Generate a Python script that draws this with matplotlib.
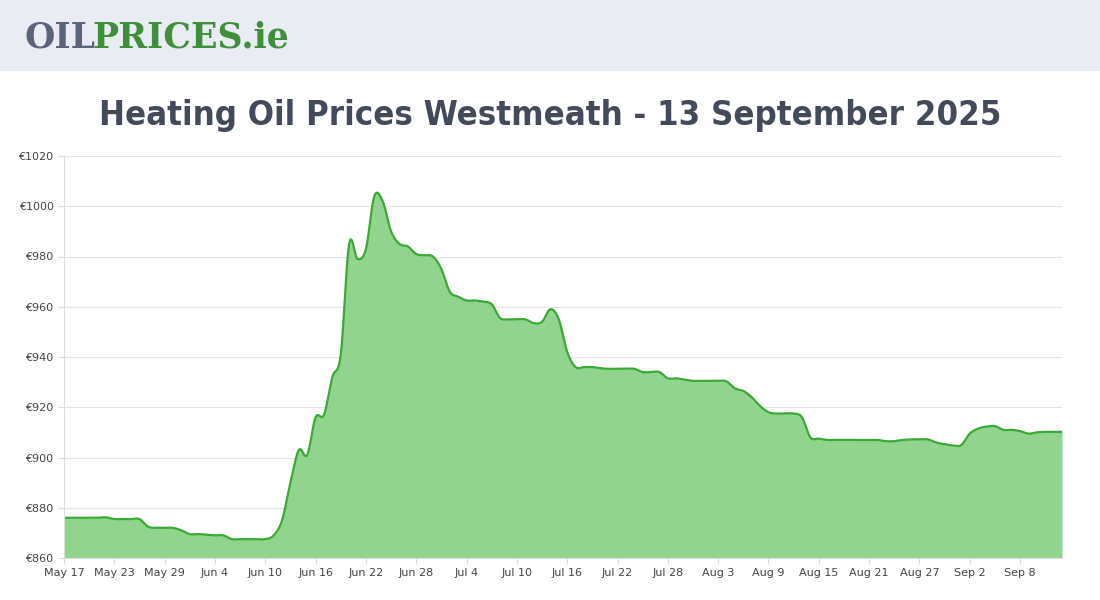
import numpy as np
import matplotlib.pyplot as plt
from matplotlib.patches import Rectangle

prices = [876, 876, 876, 876, 876, 876.2, 875.5, 875.5, 875.5, 875.5,
          872.5, 872, 872, 872, 871, 869.5, 869.5, 869.3, 869, 869,
          867.5, 867.5, 867.5, 867.5, 867.5, 869, 875, 890, 903, 901,
          916, 917, 932, 941, 985, 979, 983, 1004, 1002, 990,
          985, 984, 981, 980.5, 980, 975, 966, 964, 962.5, 962.5,
          962, 961, 955.5, 955, 955, 955, 953.5, 954, 959, 955,
          942, 936, 936, 936, 935.5, 935.3, 935.3, 935.3, 935.3, 934,
          934, 934, 931.5, 931.5, 931, 930.5, 930.5, 930.5, 930.5, 930.3,
          927.5, 926.5, 924, 920.5, 918, 917.5, 917.5, 917.5, 916, 908,
          907.5, 907, 907, 907, 907, 907, 907, 907, 906.5, 906.5,
          907, 907.2, 907.2, 907.2, 906, 905.3, 904.8, 905, 909.5, 911.5,
          912.3, 912.5, 911, 911, 910.5, 909.5, 910, 910.2, 910.2, 910.2]
tick_labels = ['May 17', 'May 23', 'May 29', 'Jun 4', 'Jun 10', 'Jun 16', 'Jun 22',
               'Jun 28', 'Jul 4', 'Jul 10', 'Jul 16', 'Jul 22', 'Jul 28', 'Aug 3',
               'Aug 9', 'Aug 15', 'Aug 21', 'Aug 27', 'Sep 2', 'Sep 8']
title = 'Heating Oil Prices Westmeath - 13 September 2025'

days = np.arange(len(prices))
y = np.array(prices, dtype=float)

# smooth the drawn line (Catmull-Rom between the daily points)
fine = []
fy = []
p = np.concatenate([[y[0]], y, [y[-1]]])
for i in range(len(y) - 1):
    t = np.linspace(0, 1, 10, endpoint=False)
    p0, p1, p2, p3 = p[i], p[i + 1], p[i + 2], p[i + 3]
    seg = 0.5 * (2 * p1 + (-p0 + p2) * t + (2 * p0 - 5 * p1 + 4 * p2 - p3) * t ** 2
                 + (-p0 + 3 * p1 - 3 * p2 + p3) * t ** 3)
    fine.extend(i + t)
    fy.extend(seg)
fine.append(days[-1])
fy.append(y[-1])

fig = plt.figure(figsize=(11, 6), dpi=100)
fig.patches.append(Rectangle((0, 530 / 600), 1, 70 / 600, transform=fig.transFigure,
                             color='#e9ecf3', zorder=0))
fig.text(0.022, 0.937, 'OIL', fontsize=25, fontweight='bold', color='#5b6478',
         family='DejaVu Serif', va='center')
fig.text(0.084, 0.937, 'PRICES.ie', fontsize=25, fontweight='bold', color='#3f8f3a',
         family='DejaVu Serif', va='center')
fig.text(0.5, 0.808, title, ha='center', va='center', fontsize=24.8, color='#434a5a',
         family='DejaVu Sans', fontstretch='condensed', fontweight='bold')

ax = fig.add_axes([64 / 1100, 42 / 600, 998 / 1100, 402 / 600])
ax.fill_between(fine, fy, 860, color='#90d48e', lw=0)
ax.plot(fine, fy, color='#3aaa35', lw=1.6)
ax.set_xlim(0, days[-1])
ax.set_ylim(860, 1020)
ax.set_yticks(np.arange(860, 1021, 20))
ax.set_yticklabels([f'€{v}' for v in range(860, 1021, 20)])
ax.set_xticks(np.arange(0, 6 * len(tick_labels), 6))
ax.set_xticklabels(tick_labels)
ax.tick_params(labelsize=8, colors='#444444', length=4, color='#dddddd')
ax.grid(True, axis='y', color='#e3e3e3', lw=0.8)
ax.set_axisbelow(True)
for s in ['top', 'right']:
    ax.spines[s].set_visible(False)
for s in ['left', 'bottom']:
    ax.spines[s].set_color('#dddddd')
fig.savefig('out.png')
